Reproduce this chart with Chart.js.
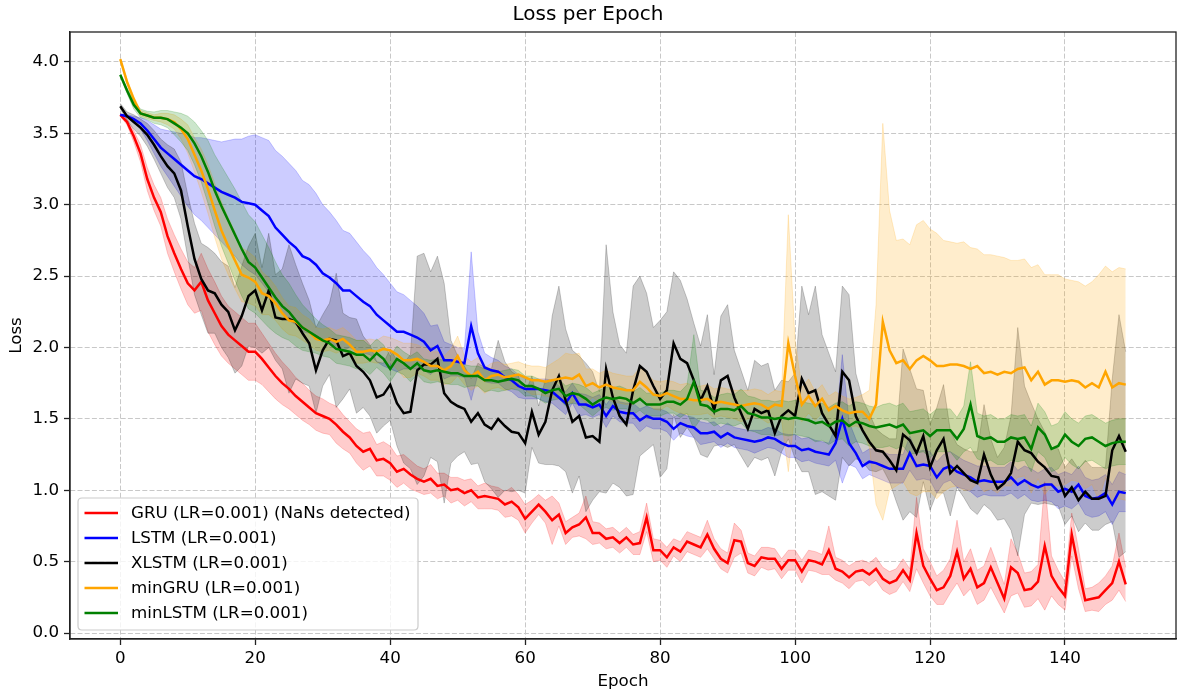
<!DOCTYPE html>
<html>
<head>
<meta charset="utf-8">
<title>Loss per Epoch</title>
<script src="https://cdn.jsdelivr.net/npm/chart.js@4"></script>
<style>
  html, body { margin: 0; padding: 0; background: #fff; }
  #wrap { width: 1178px; height: 697px; }
</style>
</head>
<body>
<div id="wrap"><canvas id="lossChart" width="1178" height="697"></canvas></div>
<script>
// training loss per epoch: mean over runs and std band

const EPOCHS = Array.from({ length: 150 }, (_, i) => i);
const X_TICKS = [0, 20, 40, 60, 80, 100, 120, 140];
const Y_TICKS = [0, 0.5, 1, 1.5, 2, 2.5, 3, 3.5, 4];

const MODEL_NAMES = [
  "GRU (LR=0.001) (NaNs detected)",
  "LSTM (LR=0.001)",
  "XLSTM (LR=0.001)",
  "minGRU (LR=0.001)",
  "minLSTM (LR=0.001)"
];
const MODEL_COLORS = ["#ff0000", "#0000ff", "#000000", "#ffa500", "#008000"];

const GRU_MEAN = [
  3.63, 3.58, 3.48, 3.36, 3.18, 3.05, 2.95, 2.78, 2.66, 2.55,
  2.45, 2.40, 2.46, 2.33, 2.24, 2.15, 2.09, 2.05, 2.01, 1.97,
  1.97, 1.92, 1.86, 1.80, 1.75, 1.71, 1.66, 1.62, 1.58, 1.54,
  1.52, 1.50, 1.46, 1.41, 1.37, 1.31, 1.27, 1.29, 1.21, 1.22,
  1.19, 1.13, 1.15, 1.11, 1.08, 1.06, 1.08, 1.03, 1.04, 1.00,
  1.01, 0.98, 1.00, 0.95, 0.96, 0.95, 0.94, 0.90, 0.92, 0.88,
  0.80, 0.85, 0.90, 0.85, 0.79, 0.83, 0.70, 0.74, 0.76, 0.81,
  0.70, 0.70, 0.66, 0.67, 0.63, 0.67, 0.62, 0.63, 0.81, 0.58,
  0.58, 0.53, 0.60, 0.57, 0.64, 0.62, 0.60, 0.69, 0.59, 0.52,
  0.49, 0.65, 0.64, 0.49, 0.47, 0.53, 0.52, 0.52, 0.45, 0.51,
  0.51, 0.43, 0.51, 0.50, 0.48, 0.58, 0.45, 0.43, 0.39, 0.43,
  0.44, 0.41, 0.45, 0.38, 0.35, 0.37, 0.44, 0.37, 0.70, 0.47,
  0.38, 0.30, 0.32, 0.40, 0.57, 0.38, 0.45, 0.32, 0.35, 0.46,
  0.35, 0.24, 0.46, 0.42, 0.30, 0.31, 0.36, 0.61, 0.40, 0.32,
  0.26, 0.69, 0.45, 0.23, 0.24, 0.25, 0.30, 0.35, 0.50, 0.34
];
const GRU_STD = [
  0.01, 0.02, 0.04, 0.06, 0.08, 0.09, 0.10, 0.12, 0.13, 0.14,
  0.15, 0.16, 0.20, 0.22, 0.22, 0.21, 0.20, 0.20, 0.20, 0.20,
  0.20, 0.18, 0.17, 0.16, 0.15, 0.14, 0.13, 0.13, 0.12, 0.12,
  0.12, 0.11, 0.13, 0.12, 0.11, 0.12, 0.13, 0.12, 0.11, 0.12,
  0.12, 0.11, 0.10, 0.10, 0.09, 0.09, 0.10, 0.09, 0.08, 0.09,
  0.08, 0.09, 0.08, 0.08, 0.09, 0.08, 0.08, 0.09, 0.10, 0.09,
  0.10, 0.08, 0.07, 0.08, 0.17, 0.08, 0.08, 0.07, 0.08, 0.15,
  0.08, 0.07, 0.07, 0.07, 0.07, 0.07, 0.07, 0.08, 0.10, 0.08,
  0.07, 0.07, 0.06, 0.07, 0.07, 0.07, 0.07, 0.10, 0.07, 0.07,
  0.07, 0.12, 0.08, 0.07, 0.07, 0.07, 0.08, 0.07, 0.07, 0.07,
  0.07, 0.08, 0.07, 0.07, 0.07, 0.17, 0.08, 0.08, 0.08, 0.07,
  0.07, 0.08, 0.08, 0.08, 0.08, 0.08, 0.08, 0.08, 0.25, 0.12,
  0.12, 0.10, 0.12, 0.12, 0.22, 0.12, 0.14, 0.12, 0.12, 0.14,
  0.12, 0.10, 0.20, 0.14, 0.12, 0.12, 0.12, 0.45, 0.14, 0.12,
  0.10, 0.15, 0.14, 0.08, 0.08, 0.10, 0.10, 0.12, 0.20, 0.12
];

const LSTM_MEAN = [
  3.63, 3.62, 3.60, 3.57, 3.52, 3.46, 3.40, 3.36, 3.32, 3.28,
  3.24, 3.20, 3.18, 3.15, 3.12, 3.09, 3.07, 3.05, 3.02, 3.01,
  3.00, 2.96, 2.92, 2.84, 2.79, 2.74, 2.70, 2.64, 2.62, 2.58,
  2.52, 2.49, 2.45, 2.40, 2.40, 2.36, 2.32, 2.29, 2.23, 2.19,
  2.15, 2.11, 2.11, 2.09, 2.07, 2.04, 1.98, 2.01, 1.91, 1.91,
  1.90, 1.89, 2.15, 1.96, 1.86, 1.84, 1.83, 1.79, 1.77, 1.73,
  1.71, 1.71, 1.71, 1.70, 1.69, 1.65, 1.61, 1.68, 1.60, 1.60,
  1.58, 1.60, 1.52, 1.59, 1.55, 1.54, 1.54, 1.49, 1.52, 1.50,
  1.50, 1.48, 1.43, 1.47, 1.45, 1.44, 1.40, 1.40, 1.41, 1.37,
  1.40, 1.37, 1.36, 1.35, 1.34, 1.35, 1.37, 1.36, 1.33, 1.31,
  1.31, 1.28, 1.29, 1.27, 1.26, 1.25, 1.33, 1.50, 1.33, 1.26,
  1.17, 1.20, 1.19, 1.17, 1.15, 1.15, 1.15, 1.26, 1.17, 1.18,
  1.17, 1.09, 1.15, 1.17, 1.13, 1.11, 1.09, 1.06, 1.07, 1.06,
  1.06, 1.06, 1.09, 1.04, 1.07, 1.04, 1.02, 1.04, 1.04, 0.99,
  1.01, 0.99, 1.04, 0.96, 0.94, 0.95, 0.98, 0.90, 0.99, 0.98
];
const LSTM_STD = [
  0.00, 0.01, 0.02, 0.04, 0.07, 0.10, 0.13, 0.16, 0.19, 0.22,
  0.25, 0.27, 0.29, 0.31, 0.33, 0.35, 0.38, 0.41, 0.44, 0.47,
  0.49, 0.51, 0.53, 0.54, 0.55, 0.55, 0.54, 0.53, 0.52, 0.50,
  0.48, 0.46, 0.44, 0.42, 0.40, 0.38, 0.36, 0.34, 0.33, 0.32,
  0.30, 0.28, 0.26, 0.24, 0.22, 0.20, 0.17, 0.15, 0.13, 0.11,
  0.10, 0.10, 0.52, 0.15, 0.10, 0.09, 0.08, 0.08, 0.08, 0.08,
  0.07, 0.07, 0.07, 0.08, 0.08, 0.08, 0.08, 0.07, 0.08, 0.07,
  0.07, 0.07, 0.08, 0.07, 0.07, 0.07, 0.07, 0.08, 0.07, 0.07,
  0.07, 0.07, 0.08, 0.07, 0.07, 0.07, 0.08, 0.07, 0.07, 0.07,
  0.07, 0.07, 0.07, 0.07, 0.08, 0.07, 0.07, 0.07, 0.07, 0.08,
  0.08, 0.08, 0.08, 0.08, 0.08, 0.08, 0.12, 0.45, 0.15, 0.10,
  0.09, 0.09, 0.10, 0.10, 0.10, 0.10, 0.10, 0.12, 0.10, 0.10,
  0.10, 0.11, 0.10, 0.10, 0.11, 0.10, 0.10, 0.11, 0.10, 0.10,
  0.10, 0.10, 0.11, 0.10, 0.10, 0.11, 0.10, 0.11, 0.12, 0.12,
  0.12, 0.12, 0.13, 0.13, 0.13, 0.13, 0.13, 0.14, 0.14, 0.13
];

const XLSTM_MEAN = [
  3.69, 3.62, 3.58, 3.54, 3.49, 3.42, 3.34, 3.27, 3.22, 3.10,
  2.85, 2.62, 2.48, 2.40, 2.38, 2.30, 2.25, 2.12, 2.22, 2.36,
  2.40, 2.26, 2.40, 2.21, 2.20, 2.20, 2.18, 2.10, 2.03, 1.84,
  1.98, 2.06, 2.05, 1.94, 1.96, 1.87, 1.83, 1.77, 1.65, 1.67,
  1.74, 1.61, 1.54, 1.55, 1.84, 1.88, 1.88, 1.92, 1.68, 1.62,
  1.59, 1.57, 1.48, 1.54, 1.46, 1.43, 1.50, 1.45, 1.41, 1.40,
  1.33, 1.55, 1.39, 1.48, 1.70, 1.80, 1.63, 1.48, 1.52, 1.37,
  1.38, 1.34, 1.85, 1.65, 1.52, 1.46, 1.70, 1.87, 1.83, 1.73,
  1.64, 1.70, 2.03, 1.92, 1.89, 1.77, 1.63, 1.73, 1.56, 1.77,
  1.80, 1.65, 1.54, 1.43, 1.57, 1.54, 1.56, 1.40, 1.52, 1.56,
  1.52, 1.78, 1.68, 1.70, 1.54, 1.46, 1.38, 1.83, 1.77, 1.52,
  1.42, 1.34, 1.28, 1.27, 1.21, 1.14, 1.39, 1.35, 1.26, 1.38,
  1.16, 1.28, 1.36, 1.12, 1.17, 1.12, 1.07, 1.05, 1.25, 1.11,
  1.01, 1.05, 1.12, 1.34, 1.28, 1.26, 1.20, 1.16, 1.10, 1.09,
  0.96, 1.02, 0.93, 0.99, 0.94, 0.94, 0.96, 1.28, 1.38, 1.27
];
const XLSTM_STD = [
  0.02, 0.03, 0.05, 0.06, 0.08, 0.10, 0.12, 0.15, 0.17, 0.20,
  0.22, 0.25, 0.25, 0.30, 0.28, 0.30, 0.32, 0.30, 0.35, 0.35,
  0.40, 0.30, 0.40, 0.30, 0.35, 0.52, 0.40, 0.35, 0.30, 0.30,
  0.25, 0.25, 0.47, 0.30, 0.25, 0.33, 0.25, 0.25, 0.25, 0.22,
  0.25, 0.30, 0.35, 0.40, 0.80, 0.78, 0.65, 0.72, 0.77, 0.43,
  0.35, 0.30, 0.30, 0.35, 0.40, 0.42, 0.55, 0.45, 0.42, 0.40,
  0.35, 0.25, 0.20, 0.30, 0.52, 0.63, 0.50, 0.50, 0.42, 0.52,
  0.45, 0.35, 0.87, 0.60, 0.50, 0.50, 0.73, 0.63, 0.55, 0.41,
  0.55, 0.55, 0.50, 0.55, 0.45, 0.40, 0.38, 0.50, 0.25, 0.45,
  0.50, 0.33, 0.30, 0.27, 0.34, 0.33, 0.33, 0.30, 0.25, 0.20,
  0.30, 0.65, 0.55, 0.73, 0.55, 0.50, 0.45, 0.60, 0.60, 0.30,
  0.22, 0.20, 0.15, 0.12, 0.15, 0.22, 0.60, 0.50, 0.45, 0.32,
  0.30, 0.30, 0.38, 0.30, 0.15, 0.17, 0.20, 0.22, 0.35, 0.25,
  0.22, 0.25, 0.40, 0.80, 0.45, 0.35, 0.30, 0.25, 0.20, 0.20,
  0.20, 0.20, 0.22, 0.22, 0.22, 0.22, 0.20, 0.50, 0.85, 0.70
];

const MINGRU_MEAN = [
  4.02, 3.86, 3.74, 3.64, 3.625, 3.61, 3.61, 3.60, 3.58, 3.53,
  3.46, 3.35, 3.24, 3.11, 2.96, 2.82, 2.71, 2.61, 2.51, 2.49,
  2.46, 2.38, 2.36, 2.31, 2.24, 2.19, 2.18, 2.14, 2.11, 2.06,
  2.05, 2.06, 2.04, 2.06, 2.02, 1.97, 1.97, 1.98, 1.97, 1.99,
  1.98, 1.95, 1.91, 1.91, 1.92, 1.90, 1.87, 1.87, 1.84, 1.87,
  1.94, 1.84, 1.80, 1.83, 1.77, 1.80, 1.81, 1.79, 1.80, 1.81,
  1.79, 1.77, 1.77, 1.76, 1.77, 1.78, 1.79, 1.78, 1.81, 1.73,
  1.75, 1.72, 1.74, 1.72, 1.71, 1.70, 1.70, 1.76, 1.72, 1.67,
  1.66, 1.68, 1.66, 1.64, 1.64, 1.63, 1.63, 1.64, 1.61, 1.62,
  1.61, 1.60, 1.59, 1.60, 1.61, 1.60, 1.57, 1.60, 1.59, 2.03,
  1.80, 1.60, 1.66, 1.59, 1.64, 1.56, 1.59, 1.56, 1.54, 1.55,
  1.55, 1.50, 1.60, 2.18, 1.98, 1.89, 1.91, 1.85, 1.91, 1.94,
  1.91, 1.87, 1.87, 1.88, 1.88, 1.87, 1.85, 1.87, 1.82, 1.83,
  1.81, 1.83, 1.82, 1.85, 1.86, 1.77, 1.83, 1.74, 1.77, 1.77,
  1.76, 1.77, 1.76, 1.72, 1.75, 1.72, 1.83, 1.72, 1.75, 1.74
];
const MINGRU_STD = [
  0.01, 0.02, 0.02, 0.02, 0.02, 0.02, 0.03, 0.04, 0.05, 0.07,
  0.10, 0.12, 0.15, 0.17, 0.19, 0.20, 0.20, 0.20, 0.19, 0.18,
  0.17, 0.15, 0.13, 0.12, 0.11, 0.10, 0.10, 0.09, 0.09, 0.08,
  0.08, 0.08, 0.08, 0.08, 0.08, 0.08, 0.08, 0.08, 0.08, 0.09,
  0.09, 0.10, 0.12, 0.12, 0.10, 0.10, 0.10, 0.10, 0.10, 0.12,
  0.14, 0.10, 0.10, 0.10, 0.09, 0.09, 0.09, 0.09, 0.09, 0.09,
  0.09, 0.10, 0.10, 0.10, 0.12, 0.14, 0.17, 0.17, 0.15, 0.12,
  0.10, 0.10, 0.10, 0.10, 0.10, 0.10, 0.10, 0.10, 0.10, 0.10,
  0.10, 0.09, 0.10, 0.10, 0.11, 0.10, 0.10, 0.10, 0.10, 0.10,
  0.10, 0.10, 0.11, 0.10, 0.10, 0.10, 0.10, 0.10, 0.10, 0.90,
  0.25, 0.12, 0.12, 0.10, 0.10, 0.10, 0.10, 0.10, 0.10, 0.10,
  0.12, 0.20, 0.70, 1.39, 0.98, 0.86, 0.85, 0.87, 0.95, 0.95,
  0.92, 0.93, 0.88, 0.86, 0.85, 0.87, 0.85, 0.82, 0.83, 0.82,
  0.83, 0.80, 0.79, 0.76, 0.76, 0.79, 0.75, 0.77, 0.74, 0.74,
  0.72, 0.70, 0.70, 0.71, 0.71, 0.79, 0.74, 0.81, 0.81, 0.81
];

const MINLSTM_MEAN = [
  3.91, 3.80, 3.70, 3.64, 3.625, 3.61, 3.61, 3.60, 3.57, 3.54,
  3.50, 3.43, 3.34, 3.23, 3.10, 2.99, 2.89, 2.79, 2.69, 2.60,
  2.56, 2.49, 2.42, 2.35, 2.29, 2.25, 2.19, 2.14, 2.11, 2.08,
  2.05, 2.03, 1.99, 1.98, 1.97, 1.95, 1.95, 1.91, 1.96, 1.92,
  1.85, 1.92, 1.89, 1.85, 1.89, 1.84, 1.83, 1.84, 1.83, 1.82,
  1.82, 1.80, 1.80, 1.80, 1.77, 1.77, 1.76, 1.77, 1.78, 1.77,
  1.73, 1.73, 1.71, 1.68, 1.70, 1.71, 1.66, 1.68, 1.67, 1.64,
  1.60, 1.63, 1.65, 1.64, 1.65, 1.64, 1.61, 1.64, 1.60, 1.60,
  1.60, 1.62, 1.62, 1.60, 1.64, 1.76, 1.60, 1.59, 1.55, 1.57,
  1.57, 1.56, 1.59, 1.54, 1.53, 1.51, 1.51, 1.50, 1.51, 1.50,
  1.51, 1.50, 1.49, 1.47, 1.48, 1.45, 1.48, 1.49, 1.45, 1.48,
  1.47, 1.45, 1.44, 1.45, 1.46, 1.44, 1.46, 1.40, 1.41, 1.42,
  1.38, 1.42, 1.42, 1.42, 1.36, 1.43, 1.60, 1.38, 1.36, 1.37,
  1.34, 1.34, 1.37, 1.36, 1.37, 1.29, 1.44, 1.39, 1.29, 1.31,
  1.39, 1.34, 1.31, 1.36, 1.37, 1.34, 1.31, 1.33, 1.34, 1.34
];
const MINLSTM_STD = [
  0.01, 0.02, 0.03, 0.03, 0.03, 0.04, 0.05, 0.06, 0.08, 0.10,
  0.12, 0.15, 0.18, 0.22, 0.25, 0.28, 0.30, 0.32, 0.33, 0.33,
  0.32, 0.30, 0.28, 0.25, 0.22, 0.20, 0.18, 0.16, 0.14, 0.12,
  0.11, 0.10, 0.10, 0.10, 0.10, 0.10, 0.10, 0.10, 0.10, 0.10,
  0.09, 0.09, 0.08, 0.09, 0.08, 0.08, 0.08, 0.08, 0.08, 0.08,
  0.08, 0.08, 0.07, 0.07, 0.08, 0.07, 0.07, 0.07, 0.07, 0.07,
  0.07, 0.07, 0.07, 0.07, 0.07, 0.07, 0.07, 0.07, 0.07, 0.08,
  0.08, 0.07, 0.07, 0.08, 0.08, 0.07, 0.08, 0.08, 0.08, 0.08,
  0.08, 0.08, 0.08, 0.09, 0.10, 0.33, 0.10, 0.10, 0.10, 0.10,
  0.11, 0.11, 0.12, 0.12, 0.12, 0.12, 0.12, 0.12, 0.12, 0.12,
  0.12, 0.12, 0.12, 0.13, 0.13, 0.13, 0.13, 0.13, 0.14, 0.14,
  0.14, 0.14, 0.14, 0.15, 0.15, 0.15, 0.15, 0.15, 0.15, 0.15,
  0.15, 0.15, 0.15, 0.15, 0.15, 0.16, 0.30, 0.16, 0.16, 0.16,
  0.16, 0.16, 0.16, 0.16, 0.16, 0.16, 0.17, 0.16, 0.16, 0.16,
  0.16, 0.16, 0.16, 0.16, 0.16, 0.16, 0.16, 0.16, 0.16, 0.16
];

const MEANS = [GRU_MEAN, LSTM_MEAN, XLSTM_MEAN, MINGRU_MEAN, MINLSTM_MEAN];
const STDS = [GRU_STD, LSTM_STD, XLSTM_STD, MINGRU_STD, MINLSTM_STD];

const FONT = "'DejaVu Sans', sans-serif";
const FONT_SIZE = 16.7;

Chart.defaults.font.family = FONT;
Chart.defaults.font.size = FONT_SIZE;
Chart.defaults.color = "#000";

function withAlpha(hex, a) {
  const n = parseInt(hex.slice(1), 16);
  return `rgba(${(n >> 16) & 255}, ${(n >> 8) & 255}, ${n & 255}, ${a})`;
}

function points(values) {
  return EPOCHS.map((e, i) => ({ x: e, y: values[i] }));
}

// bands first (below every line), then the mean lines on top
const datasets = [];
MODEL_NAMES.forEach((name, i) => {
  const mean = MEANS[i], std = STDS[i];
  const lowIndex = datasets.length;
  datasets.push({
    label: name + " lower",
    data: points(mean.map((m, k) => m - std[k])),
    borderColor: withAlpha(MODEL_COLORS[i], 0.2),
    borderWidth: 1,
    pointRadius: 0,
    fill: false,
    order: 19 - 2 * i,
    isBand: true
  });
  datasets.push({
    label: name + " upper",
    data: points(mean.map((m, k) => m + std[k])),
    borderColor: withAlpha(MODEL_COLORS[i], 0.2),
    backgroundColor: withAlpha(MODEL_COLORS[i], 0.2),
    borderWidth: 1,
    pointRadius: 0,
    fill: lowIndex,
    order: 18 - 2 * i,
    isBand: true
  });
});
MODEL_NAMES.forEach((name, i) => {
  datasets.push({
    label: name,
    data: points(MEANS[i]),
    borderColor: MODEL_COLORS[i],
    borderWidth: 2.5,
    pointRadius: 0,
    fill: false,
    order: 4 - i
  });
});

// matplotlib-like frame on all four sides plus the legend box in the lower left
const frameAndLegend = {
  id: "frameAndLegend",
  afterDatasetsDraw(chart) {
    const { ctx, chartArea: a } = chart;
    ctx.save();
    ctx.strokeStyle = "#222";
    ctx.lineWidth = 1.3;
    ctx.strokeRect(a.left, a.top, a.right - a.left, a.bottom - a.top);

    const bx = a.left + 8, bw = 340, bh = 132;
    const by = a.bottom - 9 - bh, r = 4;
    ctx.beginPath();
    ctx.moveTo(bx + r, by);
    ctx.lineTo(bx + bw - r, by);
    ctx.quadraticCurveTo(bx + bw, by, bx + bw, by + r);
    ctx.lineTo(bx + bw, by + bh - r);
    ctx.quadraticCurveTo(bx + bw, by + bh, bx + bw - r, by + bh);
    ctx.lineTo(bx + r, by + bh);
    ctx.quadraticCurveTo(bx, by + bh, bx, by + bh - r);
    ctx.lineTo(bx, by + r);
    ctx.quadraticCurveTo(bx, by, bx + r, by);
    ctx.closePath();
    ctx.fillStyle = "rgba(255, 255, 255, 0.8)";
    ctx.fill();
    ctx.strokeStyle = "#cccccc";
    ctx.lineWidth = 1.2;
    ctx.stroke();

    ctx.font = `${FONT_SIZE}px ${FONT}`;
    ctx.textBaseline = "middle";
    ctx.textAlign = "left";
    MODEL_NAMES.forEach((name, i) => {
      const y = by + 15 + i * 25;
      ctx.beginPath();
      ctx.moveTo(bx + 6.5, y);
      ctx.lineTo(bx + 40, y);
      ctx.strokeStyle = MODEL_COLORS[i];
      ctx.lineWidth = 2.5;
      ctx.stroke();
      ctx.fillStyle = "#000";
      ctx.fillText(name, bx + 53, y + 1);
    });
    ctx.restore();
  }
};

new Chart(document.getElementById("lossChart").getContext("2d"), {
  type: "line",
  data: { datasets },
  options: {
    responsive: false,
    animation: false,
    layout: { padding: { left: 0, right: 2, top: 0, bottom: 0 } },
    elements: { line: { tension: 0 } },
    plugins: {
      legend: { display: false },
      tooltip: { enabled: false },
      title: {
        display: true,
        text: "Loss per Epoch",
        font: { size: 20, weight: "normal" },
        color: "#000",
        padding: { top: 3, bottom: 5 }
      }
    },
    scales: {
      x: {
        type: "linear",
        min: -7.45,
        max: 156.45,
        afterBuildTicks: s => { s.ticks = X_TICKS.map(v => ({ value: v })); },
        afterFit: s => { s.height = 58; },
        ticks: { padding: 4, maxRotation: 0, callback: v => String(v) },
        grid: {
          color: "#c8c8c8", lineWidth: 1,
          tickColor: "#222", tickWidth: 1.3, tickLength: 6, tickBorderDash: []
        },
        border: { color: "#222", width: 1.3, dash: [5, 2.2] },
        title: { display: true, text: "Epoch", padding: { top: 0, bottom: 5 } }
      },
      y: {
        min: -0.042,
        max: 4.21,
        afterBuildTicks: s => { s.ticks = Y_TICKS.map(v => ({ value: v })); },
        afterFit: s => { s.width = 70; },
        ticks: { padding: 5, callback: v => v.toFixed(1) },
        grid: {
          color: "#c8c8c8", lineWidth: 1,
          tickColor: "#222", tickWidth: 1.3, tickLength: 6, tickBorderDash: []
        },
        border: { color: "#222", width: 1.3, dash: [5, 2.2] },
        title: { display: true, text: "Loss", padding: { top: 7, bottom: 0 } }
      }
    }
  },
  plugins: [frameAndLegend]
});
</script>
</body>
</html>
